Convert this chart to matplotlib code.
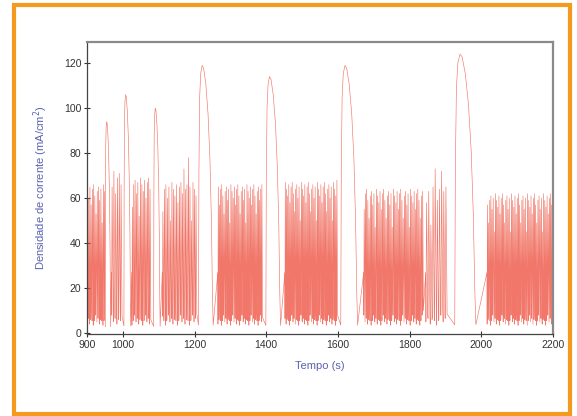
import numpy as np
import matplotlib
matplotlib.use('Agg')
import matplotlib.pyplot as plt
from matplotlib.patches import Rectangle

plt.rcParams['font.family'] = ['Liberation Sans', 'DejaVu Sans']

# ── Data ──────────────────────────────────────────────────────────────────────
# oscillation bursts: start (s), end (s), upper level (mA/cm2), period (s)
BURST_START = [900, 968, 1025, 1110, 1265, 1452, 1672, 1845, 2016]
BURST_END = [950, 1000, 1080, 1208, 1390, 1598, 1840, 1905, 2200]
BURST_TOP = [63, 68, 66, 64, 63, 64, 61, 62, 59]
BURST_PERIOD = [3.4, 5.0, 3.8, 4.2, 3.2, 3.2, 3.4, 6.0, 3.2]
BURST_LOW = 5.0
TOP_VARIATION = [0, -3, 2, -6, 1, 3, -2, -10, 0, 2, -4, 1, -14, 3]
LOW_VARIATION = [0, 1.5, -1, 2.5, 0.5, -1.5, 1, 3]

# taller single oscillations inside bursts
TALL_T = [975, 990, 1170, 1182, 1388, 1597, 1872, 1888]
TALL_H = [72, 71, 73, 78, 66, 68, 73, 72]

# large current peaks: rise start, fall end, height
PEAK_START = [951, 1003, 1086, 1211, 1399, 1608, 1926]
PEAK_END = [966, 1022, 1104, 1252, 1440, 1655, 1985]
PEAK_H = [94, 106, 100, 119, 114, 119, 124]
PEAK_SHAPE_X = [0.0, 0.03, 0.08, 0.15, 0.25, 0.35, 0.5, 0.65, 0.78, 0.88, 0.95, 1.0]
PEAK_SHAPE_Y = [0.03, 0.6, 0.88, 0.97, 1.0, 0.99, 0.93, 0.82, 0.65, 0.42, 0.15, 0.03]

X_TICKS = [900, 1000, 1200, 1400, 1600, 1800, 2000, 2200]
Y_TICKS = [0, 20, 40, 60, 80, 100, 120]

# ── Build the trace ───────────────────────────────────────────────────────────
segments = []
k = 0
for s, e, top, p in zip(BURST_START, BURST_END, BURST_TOP, BURST_PERIOD):
    ts, ys = [s], [BURST_LOW + 22]
    for t in np.arange(s, e - p * 0.5, p):
        hi = top + TOP_VARIATION[k % len(TOP_VARIATION)]
        lo = BURST_LOW + LOW_VARIATION[k % len(LOW_VARIATION)]
        k += 1
        for tt, hh in zip(TALL_T, TALL_H):
            if t <= tt < t + p:
                hi = hh
        ts += [t + 0.1 * p, t + 0.4 * p, t + 0.95 * p]
        ys += [lo, hi, lo + 2]
    segments.append((s, ts, ys))

for s, e, h in zip(PEAK_START, PEAK_END, PEAK_H):
    ts = [s + fx * (e - s) for fx in PEAK_SHAPE_X]
    ys = [fy * h for fy in PEAK_SHAPE_Y]
    segments.append((s, ts, ys))

segments.sort(key=lambda seg: seg[0])
time = np.concatenate([seg[1] for seg in segments])
current = np.concatenate([seg[2] for seg in segments])

# ── Figure ────────────────────────────────────────────────────────────────────
fig = plt.figure(figsize=(5.77, 4.16), dpi=100)
fig.patch.set_facecolor('white')
ax = fig.add_axes([0.1508, 0.197, 0.8075, 0.702])

ax.plot(time, current, color='#ec4a38', lw=0.45, alpha=0.75)

ax.set_xlim(900, 2200)
ax.set_ylim(-0.4, 129.4)
ax.set_xticks(X_TICKS)
ax.set_yticks(Y_TICKS)
ax.tick_params(axis='both', labelsize=7.5, colors='#333333', direction='inout',
               length=4, width=0.8, pad=2)

for side in ('left', 'bottom'):
    ax.spines[side].set_color('#444444')
    ax.spines[side].set_linewidth(0.9)
for side in ('top', 'right'):
    ax.spines[side].set_color('#8a8a8a')
    ax.spines[side].set_linewidth(1.6)

ax.set_xlabel('Tempo (s)', fontsize=8, color='#5a62b0', labelpad=8)
ax.set_ylabel('Densidade de corrente (mA/cm$^2$)', fontsize=8,
              color='#5a62b0', labelpad=10)

# orange frame around the picture
fig.patches.append(Rectangle((14 / 577, 1 - 414 / 416), 556 / 577, 409 / 416,
                             transform=fig.transFigure, fill=False,
                             edgecolor='#f39a1f', lw=3.0, zorder=10))

fig.savefig('out.png', dpi=100)
